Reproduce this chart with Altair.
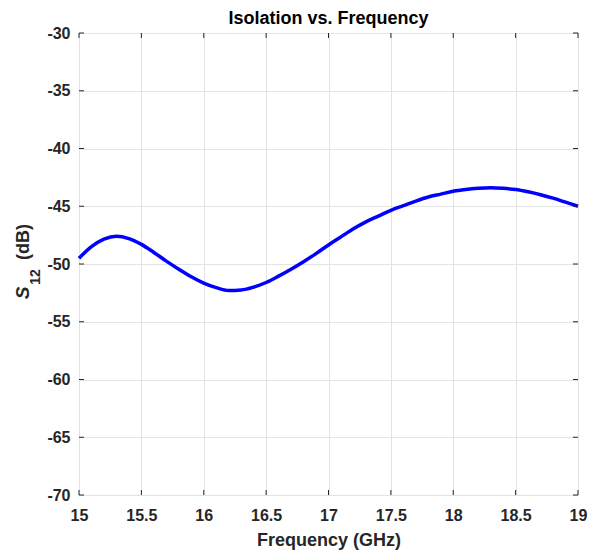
import altair as alt
import pandas as pd

# Data
freq_ghz = [15.0, 15.1, 15.2, 15.3, 15.4, 15.5, 15.6, 15.7, 15.8, 15.9,
             16.0, 16.1, 16.2, 16.3, 16.4, 16.5, 16.6, 16.7, 16.8, 16.9,
             17.0, 17.1, 17.2, 17.3, 17.4, 17.5, 17.6, 17.7, 17.8, 17.9,
             18.0, 18.1, 18.2, 18.3, 18.4, 18.5, 18.6, 18.7, 18.8, 18.9, 19.0]
s12_db = [-49.5, -48.5, -47.85, -47.6, -47.8, -48.3, -49.0, -49.75, -50.45, -51.1,
          -51.65, -52.05, -52.3, -52.25, -52.0, -51.6, -51.05, -50.45, -49.8, -49.1,
          -48.35, -47.65, -46.95, -46.35, -45.85, -45.35, -44.95, -44.55, -44.2, -43.95,
          -43.7, -43.55, -43.45, -43.4, -43.45, -43.55, -43.75, -44.0, -44.3, -44.65, -45.0]
x_ticks = [15, 15.5, 16, 16.5, 17, 17.5, 18, 18.5, 19]
y_ticks = [-70, -65, -60, -55, -50, -45, -40, -35, -30]

W, H = 499, 462
FONT = "Liberation Sans"

df = pd.DataFrame({"f": freq_ghz, "s": s12_db})
xt = pd.DataFrame({"v": x_ticks})
yt = pd.DataFrame({"v": y_ticks})

xscale = alt.Scale(domain=[15, 19], nice=False, zero=False)
yscale = alt.Scale(domain=[-70, -30], nice=False, zero=False)

line = alt.Chart(df).mark_line(color="#0000ff", strokeWidth=3.5, interpolate="monotone").encode(
    x=alt.X("f:Q", scale=xscale,
            axis=alt.Axis(values=x_ticks, title="Frequency (GHz)", grid=True, ticks=False,
                          domain=False, labelFont=FONT, labelFontSize=16, labelFontWeight="bold",
                          labelColor="#262626", labelPadding=12, titleFont=FONT, titleFontSize=18,
                          titleFontWeight="bold", titleColor="#262626", titlePadding=8,
                          gridColor="#e3e3e3", labelFlush=False, labelExpr="toString(datum.value)")),
    y=alt.Y("s:Q", scale=yscale,
            axis=alt.Axis(values=y_ticks, title=None, grid=True, ticks=False, domain=False,
                          labelFont=FONT, labelFontSize=16, labelFontWeight="bold",
                          labelColor="#262626", labelPadding=9, gridColor="#e3e3e3",
                          labelFlush=False, labelExpr="toString(datum.value)")),
)

tick_col = "#262626"
xt_bottom = alt.Chart(xt).mark_rule(color=tick_col, strokeWidth=1).encode(
    x=alt.X("v:Q", scale=xscale), y=alt.value(H), y2=alt.value(H - 5))
xt_top = alt.Chart(xt).mark_rule(color=tick_col, strokeWidth=1).encode(
    x=alt.X("v:Q", scale=xscale), y=alt.value(0), y2=alt.value(5))
yt_left = alt.Chart(yt).mark_rule(color=tick_col, strokeWidth=1).encode(
    y=alt.Y("v:Q", scale=yscale), x=alt.value(0), x2=alt.value(5))
yt_right = alt.Chart(yt).mark_rule(color=tick_col, strokeWidth=1).encode(
    y=alt.Y("v:Q", scale=yscale), x=alt.value(W), x2=alt.value(W - 5))

one = alt.Data(values=[{"a": 1}])
lab_s = alt.Chart(one).mark_text(text="S", angle=270, font=FONT, fontSize=19, fontWeight="bold",
                                 fontStyle="italic", color="#262626", align="center",
                                 baseline="middle").encode(x=alt.value(-56), y=alt.value(260))
lab_sub = alt.Chart(one).mark_text(text="12", angle=270, font=FONT, fontSize=14, fontWeight="bold",
                                   color="#262626", align="center",
                                   baseline="middle").encode(x=alt.value(-43), y=alt.value(244))
lab_db = alt.Chart(one).mark_text(text="(dB)", angle=270, font=FONT, fontSize=18, fontWeight="bold",
                                  color="#262626", align="center",
                                  baseline="middle").encode(x=alt.value(-55), y=alt.value(209))

chart = alt.layer(line, xt_bottom, xt_top, yt_left, yt_right, lab_s, lab_sub, lab_db).properties(
    width=W, height=H,
    title=alt.TitleParams("Isolation vs. Frequency", font=FONT, fontSize=18, fontWeight="bold",
                          color="#000000", offset=-3, anchor="middle"),
    padding={"left": 71, "top": 25, "right": 11, "bottom": 60},
    autosize=alt.AutoSizeParams(type="none"),
).configure_view(stroke="#262626", strokeWidth=1).configure(background="white")

chart.save("out.html", embed_options={"renderer": "svg", "actions": False})
